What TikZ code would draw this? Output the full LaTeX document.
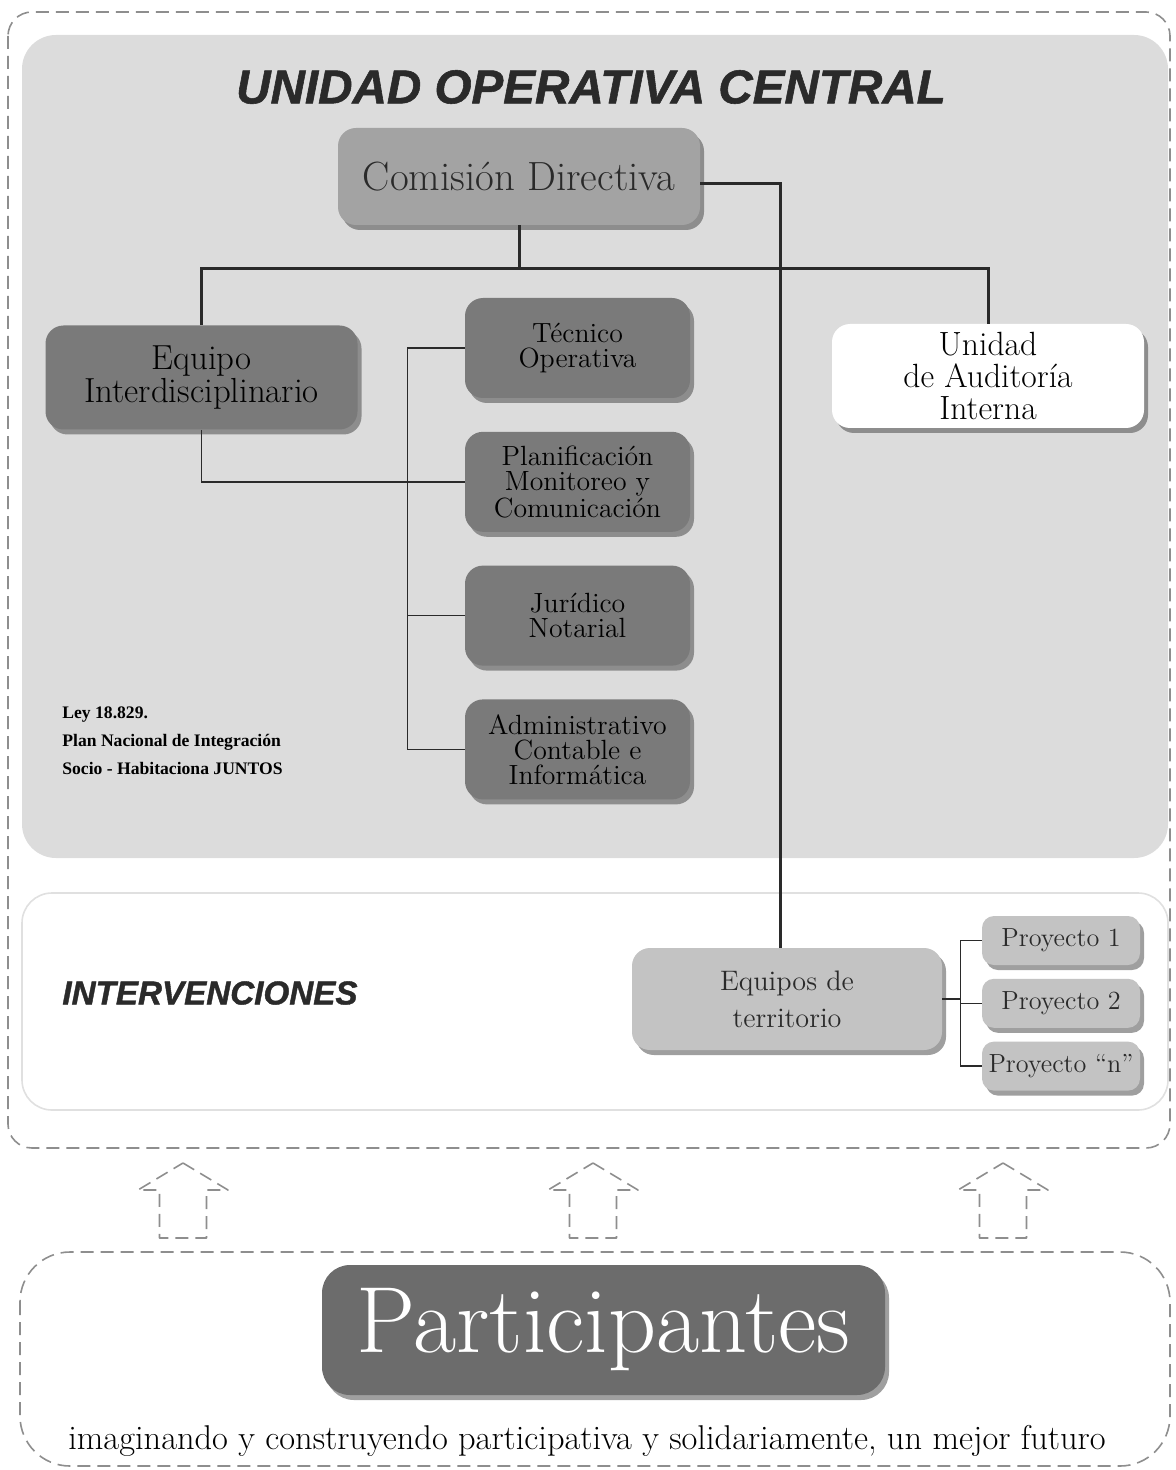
\documentclass[tikz,border=0pt]{standalone}
\usepackage{fontspec}
\setsansfont{Liberation Sans}
\newfontfamily\notefont{Liberation Serif}
\newfontfamily\titlefont{Liberation Sans}[FakeBold=1.2]
\usepackage{tikz}
\usetikzlibrary{positioning,shadows}

\definecolor{panelgray}{HTML}{DCDCDC}
\definecolor{midgray}{HTML}{A3A3A3}
\definecolor{darkbox}{HTML}{7A7A7A}
\definecolor{lightbox}{HTML}{C3C3C3}
\definecolor{partgray}{HTML}{6C6C6C}
\definecolor{dashgray}{HTML}{8E8E8E}
\definecolor{inkgray}{HTML}{2A2A2A}

\begin{document}
\begin{tikzpicture}[x=0.5pt,y=-0.5pt,node distance=16.5pt,
  box/.style={rectangle,rounded corners=9pt,inner sep=0pt,align=center,text=inkgray,
    drop shadow={shadow xshift=2pt,shadow yshift=-2.5pt,opacity=.5,fill=black!75}},
  dirbox/.style={box,fill=midgray,minimum width=181pt,minimum height=48.5pt,
    font=\fontsize{20.4}{22}\selectfont},
  areabox/.style={box,fill=darkbox,minimum width=112.5pt,minimum height=50pt,
    text=black,font=\fontsize{13.9}{12.5}\selectfont},
  bigbox/.style={box,minimum width=156pt,minimum height=52pt},
  projbox/.style={box,fill=lightbox,minimum width=79pt,minimum height=24.5pt,
    rounded corners=6pt,font=\fontsize{13.1}{14}\selectfont},
  tree/.style={line width=1.5pt,inkgray},
  thinline/.style={line width=0.75pt,inkgray},
  dashline/.style={dashgray,line width=0.8pt,dash pattern=on 6.5pt off 3.5pt},
]
\useasboundingbox (0,0) rectangle (1175,1470);

% frames
\fill[panelgray,rounded corners=17pt] (22,35) rectangle (1168,858);
\draw[black!12,line width=0.8pt,fill=white,rounded corners=15pt] (22,893) rectangle (1168,1110);
\draw[dashline,rounded corners=12pt] (8,12) rectangle (1170,1148);
\draw[dashline,rounded corners=25pt] (20,1252) rectangle (1170,1466);

\node[font=\titlefont\bfseries\itshape\fontsize{23.8}{24}\selectfont,text=inkgray] (title) at (591,87) {UNIDAD OPERATIVA CENTRAL};

\node[dirbox]	(cd)	at (519,176.5)	{Comisión Directiva};
\node[bigbox,fill=darkbox,text=black,font=\fontsize{17.4}{15}\selectfont]	(ei)	at (201.5,377.5)	{Equipo\\Interdisciplinario};
\node[bigbox,fill=white,text=black,font=\fontsize{16.8}{15.8}\selectfont]	(uai)	at (988,376)	{Unidad\\de Auditoría\\Interna};

\node[areabox]	(to)	at (577.5,348)	{Técnico\\Operativa};
\node[areabox]	(pmc)	[below=of to]	{Planificación\\Monitoreo y\\Comunicación};
\node[areabox]	(jn)	[below=of pmc]	{Jurídico\\Notarial};
\node[areabox]	(aci)	[below=of jn]	{Administrativo\\Contable e\\Informática};

\node[font=\notefont\bfseries\fontsize{8.8}{14}\selectfont,align=left,anchor=north west,inner sep=0pt] (ley) at (62,706)
  {Ley 18.829.\\Plan Nacional de Integración\\Socio - Habitaciona JUNTOS};

\node[font=\titlefont\bfseries\itshape\fontsize{16.6}{17}\selectfont,text=inkgray,anchor=west,inner sep=0pt] (inter) at (62,993) {INTERVENCIONES};

\node[bigbox,fill=lightbox,minimum width=155pt,minimum height=51pt,font=\fontsize{14.1}{18.5}\selectfont]	(et)	at (787,999)	{Equipos de\\territorio};
\node[projbox]	(p1)	at (1061,940.5)	{Proyecto 1};
\node[projbox]	(p2)	[below=6.5pt of p1]	{Proyecto 2};
\node[projbox]	(pn)	[below=6.5pt of p2]	{Proyecto ``n''};

\node[box,fill=partgray,text=white,minimum width=281.5pt,minimum height=65pt,rounded corners=14pt,
  font=\fontsize{47}{48}\selectfont]	(part)	at (603.5,1330)	{Participantes};
\node[font=\fontsize{17.2}{18}\selectfont,text=black] (lema) at (587,1441)
  {imaginando y construyendo participativa y solidariamente, un mejor futuro};

% organigrama
\path (cd.south) ++(0,43) coordinate (hub);
\draw[tree] (cd.south) -- (hub);
\draw[tree] (hub) -| (ei.north);
\draw[tree] (hub) -| (uai.north);
\draw[tree] ([yshift=-3.5pt]cd.east) -| ([xshift=-3.5pt]et.north);

\draw[thinline] (to.west) -- ++(-57,0) coordinate (rail) |- (aci.west);
\draw[thinline] (rail) |- (jn.west);
\draw[thinline] (ei.south) |- (pmc.west);

\draw[thinline] (et.east) -- ++(18,0) coordinate (fork);
\draw[thinline] (fork) |- (p1.west);
\draw[thinline] (fork) |- (p2.west);
\draw[thinline] (fork) |- (pn.west);

% flechas
\foreach \ax in {183,593,1003}
  \draw[dashline,line join=round] (\ax,1163) -- ({\ax+45},1190) -- ({\ax+23.5},1190) -- ({\ax+23.5},1238)
    -- ({\ax-23.5},1238) -- ({\ax-23.5},1190) -- ({\ax-45},1190) -- cycle;
\end{tikzpicture}
\end{document}
